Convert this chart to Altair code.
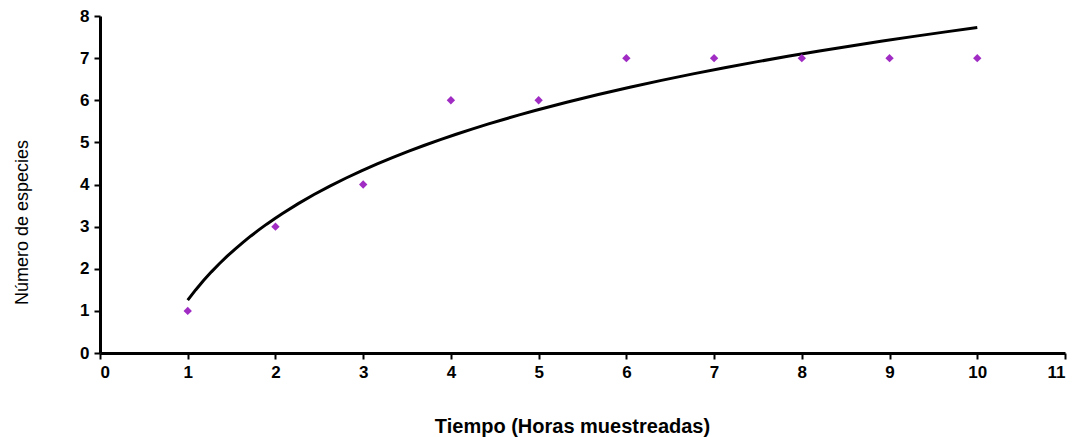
import altair as alt
import pandas as pd

horas = [1, 2, 3, 4, 5, 6, 7, 8, 9, 10]
especies = [1, 3, 4, 6, 6, 7, 7, 7, 7, 7]
x_ticks = list(range(0, 12))
y_ticks = list(range(0, 9))

df = pd.DataFrame({"horas": horas, "especies": especies})

x_enc = alt.X(
    "horas:Q",
    scale=alt.Scale(domain=[0, 11], nice=False),
    axis=alt.Axis(values=x_ticks, title="Tiempo (Horas muestreadas)",
                  titleFontWeight="bold", titleFontSize=20,
                  titleFont="Liberation Sans",
                  titleX=472, titleY=73, titleBaseline="middle"),
)
y_enc = alt.Y(
    "especies:Q",
    scale=alt.Scale(domain=[0, 8], nice=False),
    axis=alt.Axis(values=y_ticks, title="Número de especies",
                  titleFontWeight="normal", titleFontSize=18,
                  titleFont="Liberation Sans",
                  titleX=-78, titleY=206, titleBaseline="middle"),
)

points = alt.Chart(df).mark_point(
    shape="diamond", filled=True, color="#a02cc4", size=70, opacity=1
).encode(x=x_enc, y=y_enc)

trend = alt.Chart(df).transform_regression(
    "horas", "especies", method="log", extent=[1, 10]
).mark_line(color="black", strokeWidth=3).encode(x=x_enc, y=y_enc)

chart = alt.layer(trend, points).properties(
    width=965, height=337,
    autosize=alt.AutoSizeParams(type="none"),
    padding={"left": 92, "top": 8, "right": 8, "bottom": 84},
).configure_view(stroke=None).configure_axis(
    grid=False,
    domainColor="black", domainWidth=3,
    tickColor="black", tickWidth=2, tickSize=6,
    labelFont="Liberation Sans", labelFontWeight="bold", labelFontSize=17,
    labelColor="black", labelPadding=5, titleColor="black",
)

chart.save("out.html", embed_options={"renderer": "svg", "actions": False})
